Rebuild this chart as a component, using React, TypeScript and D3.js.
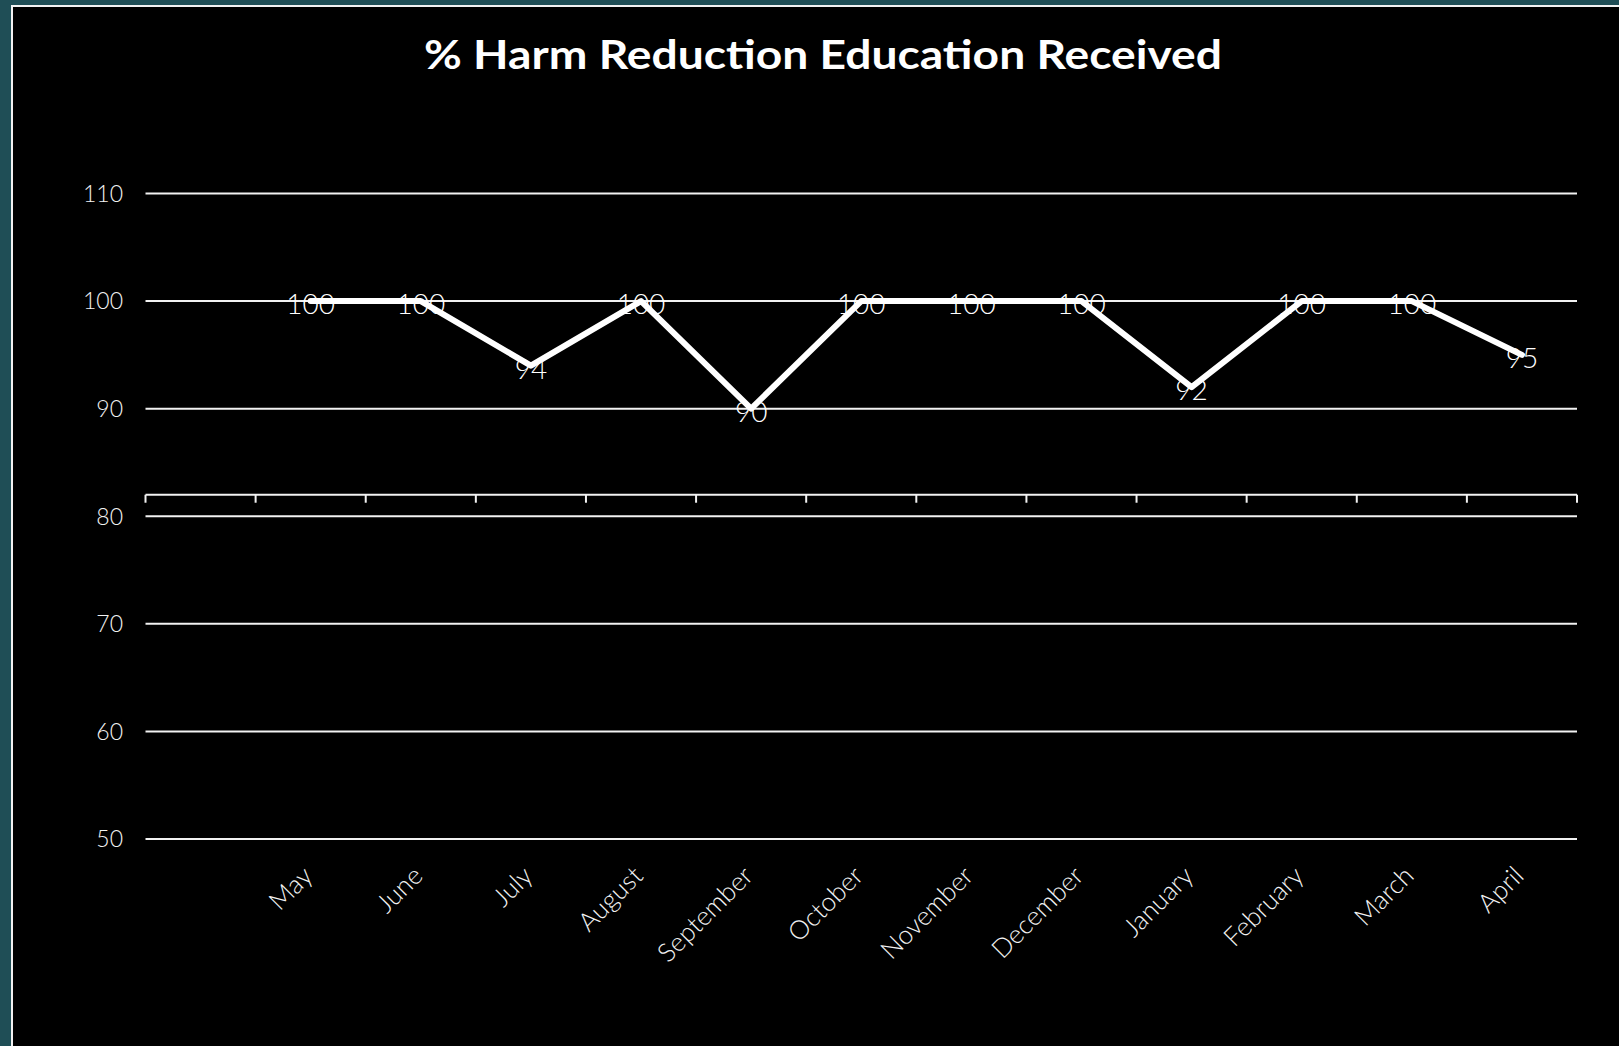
import React from "react";
import * as d3 from "d3";

// Monthly share of clients who received harm reduction education (%)
const months = [
  "May", "June", "July", "August", "September", "October",
  "November", "December", "January", "February", "March", "April",
];
const values = [100, 100, 94, 100, 90, 100, 100, 100, 92, 100, 100, 95];
// First slot of the category axis is left empty
const categories = ["", ...months];
const yTicks = [50, 60, 70, 80, 90, 100, 110];
const axisCrossValue = 82;
const title = "% Harm Reduction Education Received";

const W = 1619;
const H = 1046;
const FONT = "Lato, 'Open Sans', 'DejaVu Sans', sans-serif";

export default function App() {
  const x = d3.scaleBand<string>().domain(categories).range([145.5, 1577]).padding(0);
  const y = d3.scaleLinear().domain([50, 110]).range([839, 193.5]);
  const cx = (m: string) => (x(m) as number) + x.bandwidth() / 2;

  const points = months.map((m, i) => ({ m, v: values[i] }));
  const linePath = d3
    .line<{ m: string; v: number }>()
    .x((d) => cx(d.m))
    .y((d) => y(d.v))(points) as string;

  const axisY = y(axisCrossValue);
  const [x0, x1] = x.range();
  const tickXs = categories.map((c) => x(c) as number).concat([x1]);

  return (
    <svg
      width={W}
      height={H}
      style={{ position: "absolute", left: 0, top: 0, display: "block" }}
    >
      <rect x={0} y={0} width={W} height={H} fill="#1f4e56" />
      <rect x={11} y={5} width={W - 11} height={H - 5} fill="#f2f2f2" />
      <rect x={13} y={7} width={W - 13} height={H - 7} fill="#000000" />

      <text
        x={823}
        y={69}
        textAnchor="middle"
        fill="#ffffff"
        fontFamily={FONT}
        fontWeight={700}
        fontSize={40}
        textLength={798}
        lengthAdjust="spacingAndGlyphs"
      >
        {title}
      </text>

      {/* horizontal gridlines and value axis labels */}
      {yTicks.map((t) => (
        <g key={t}>
          <line x1={x0} x2={x1} y1={y(t)} y2={y(t)} stroke="#f2f2f2" strokeWidth={2} />
          <text
            x={123}
            y={y(t)}
            dy="0.36em"
            textAnchor="end"
            fill="#f2f2f2"
            fontFamily={FONT}
            fontWeight={300}
            fontSize={23}
          >
            {t}
          </text>
        </g>
      ))}

      {/* category axis */}
      <line x1={x0} x2={x1} y1={axisY} y2={axisY} stroke="#f2f2f2" strokeWidth={2} />
      {tickXs.map((tx, i) => (
        <line key={i} x1={tx} x2={tx} y1={axisY} y2={axisY + 8} stroke="#f2f2f2" strokeWidth={2} />
      ))}

      {months.map((m) => (
        <text
          key={m}
          transform={`translate(${cx(m) - 3},${871}) rotate(-45)`}
          textAnchor="end"
          dy="0.35em"
          fill="#f2f2f2"
          fontFamily={FONT}
          fontWeight={300}
          fontSize={26}
        >
          {m}
        </text>
      ))}

      <path
        d={linePath}
        fill="none"
        stroke="#ffffff"
        strokeWidth={6}
        strokeLinejoin="round"
        strokeLinecap="round"
      />

      {points.map((p) => (
        <text
          key={p.m}
          x={cx(p.m)}
          y={y(p.v) + 3}
          dy="0.36em"
          textAnchor="middle"
          fill="#ffffff"
          fontFamily={FONT}
          fontWeight={300}
          fontSize={28}
        >
          {p.v}
        </text>
      ))}
    </svg>
  );
}
